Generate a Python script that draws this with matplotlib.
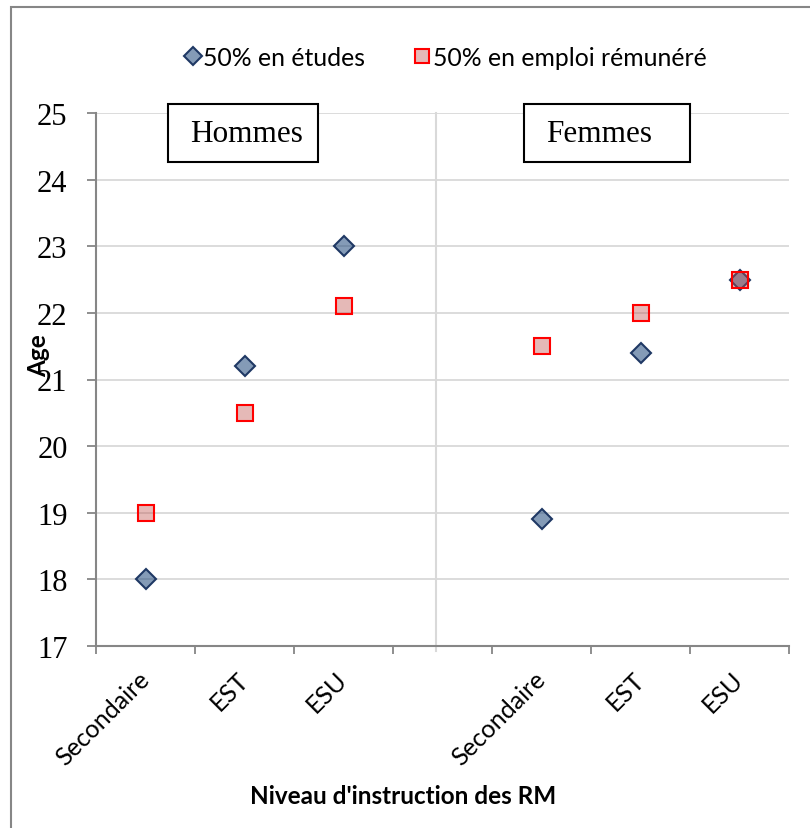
import matplotlib
matplotlib.use("Agg")
import matplotlib.pyplot as plt
import numpy as np
from matplotlib.patches import Rectangle
from matplotlib.lines import Line2D
from matplotlib.ticker import FixedLocator, NullFormatter, FixedFormatter

# --- data -----------------------------------------------------------------
niveaux = ["Secondaire", "EST", "ESU"]
groupes = ["Hommes", "Femmes"]
hommes_etudes = [18.0, 21.2, 23.0]
hommes_emploi = [19.0, 20.5, 22.1]
femmes_etudes = [18.9, 21.4, 22.5]
femmes_emploi = [21.5, 22.0, 22.5]
serie_labels = ["50% en études", "50% en emploi rémunéré"]
y_ticks = [17, 18, 19, 20, 21, 22, 23, 24, 25]
xlabel = "Niveau d'instruction des RM"
ylabel = "Age"

# category slots: three levels for men, an empty slot, three levels for women
categories = niveaux + [""] + niveaux
n_cat = len(categories)
etudes = hommes_etudes + [np.nan] + femmes_etudes
emploi = hommes_emploi + [np.nan] + femmes_emploi
x = np.arange(n_cat)
separateur = 2.93  # position of the vertical divider between the two groups

SANS = ["Lato", "DejaVu Sans"]
SERIF = ["Liberation Serif", "DejaVu Serif"]
AXIS_GREY = "#868686"
GRID_GREY = "#d9d9d9"

W, H = 810, 829
fig = plt.figure(figsize=(W / 100, H / 100), dpi=100)
fig.patch.set_facecolor("white")

def fx(px):
    return px / W

def fy(py):
    return 1 - py / H

ax = fig.add_axes([fx(96), fy(647), fx(789) - fx(96), fy(114) - fy(647)])
ax.set_xlim(-0.5, n_cat - 0.5)
ax.set_ylim(y_ticks[0], y_ticks[-1])

# grid and spines
ax.set_yticks(y_ticks)
ax.yaxis.grid(True, color=GRID_GREY, linewidth=1.3, zorder=0)
ax.set_axisbelow(True)
for s in ("top", "right"):
    ax.spines[s].set_visible(False)
for s in ("left", "bottom"):
    ax.spines[s].set_color(AXIS_GREY)
    ax.spines[s].set_linewidth(1.5)

# y ticks
ax.tick_params(axis="y", direction="out", length=6.5, width=1.3, color=AXIS_GREY,
               pad=14, labelsize=22)
for lab in ax.get_yticklabels():
    lab.set_fontfamily(SERIF)

# x ticks: boundaries as major ticks, labels on category centres
ax.xaxis.set_major_locator(FixedLocator(np.arange(n_cat + 1) - 0.5))
ax.xaxis.set_major_formatter(NullFormatter())
ax.xaxis.set_minor_locator(FixedLocator(x))
ax.xaxis.set_minor_formatter(FixedFormatter(categories))
ax.tick_params(axis="x", which="major", direction="out", length=5.5, width=1.3,
               color=AXIS_GREY)
ax.tick_params(axis="x", which="minor", length=0, pad=21, labelsize=18)
for lab in ax.get_xticklabels(minor=True):
    lab.set_fontfamily(SANS)
    lab.set_rotation(45)
    lab.set_ha("right")
    lab.set_va("center")
    lab.set_rotation_mode("anchor")

# vertical divider between groups
ax.plot([separateur, separateur], [y_ticks[0] - 0.08, y_ticks[-1]],
        color=GRID_GREY, linewidth=1.5, clip_on=False, zorder=1)

# markers
diamond_face = (31 / 255, 73 / 255, 125 / 255, 0.55)
diamond_edge = "#1f3864"
square_face = (192 / 255, 80 / 255, 77 / 255, 0.4)
square_edge = "#ff0000"

ax.plot(x, etudes, linestyle="none", marker="D", markersize=10,
        markerfacecolor=diamond_face, markeredgecolor=diamond_edge,
        markeredgewidth=1.5, zorder=3)
ax.plot(x, emploi, linestyle="none", marker="s", markersize=11.5,
        markerfacecolor=square_face, markeredgecolor=square_edge,
        markeredgewidth=1.5, zorder=4)

# legend
handles = [
    Line2D([], [], linestyle="none", marker="D", markersize=9,
           markerfacecolor=diamond_face, markeredgecolor=diamond_edge,
           markeredgewidth=1.5),
    Line2D([], [], linestyle="none", marker="s", markersize=10.5,
           markerfacecolor=square_face, markeredgecolor=square_edge,
           markeredgewidth=1.5),
]
fig.legend(handles, serie_labels, loc="center", bbox_to_anchor=(fx(446), fy(58)),
           ncol=2, frameon=False, prop={"family": SANS, "size": 17.8},
           handlelength=0.6, handletextpad=0.12, columnspacing=2.0)

# group boxes
boxes = [(168, 318), (524, 690)]
for (x0, x1), nom in zip(boxes, groupes):
    fig.patches.append(Rectangle((fx(x0), fy(163)), fx(x1) - fx(x0), fy(105) - fy(163),
                                 transform=fig.transFigure, facecolor="white",
                                 edgecolor="black", linewidth=1.5, zorder=5))
    fig.text(fx(x0 + 22), fy(135), nom, family=SERIF, size=22.5,
             ha="left", va="center", zorder=6)

# axis titles
fig.text(fx(403), fy(797), xlabel, family=SANS, size=17.5, weight="bold",
         ha="center", va="center")
fig.text(fx(39), fy(356), ylabel, family=SANS, size=17.5, weight="bold",
         ha="center", va="center", rotation=90)

# outer chart border
fig.patches.append(Rectangle((fx(11), fy(835)), fx(820) - fx(11), fy(8) - fy(835),
                             transform=fig.transFigure, facecolor="none",
                             edgecolor=AXIS_GREY, linewidth=1.5, zorder=0))

fig.savefig("out.png", dpi=100)
